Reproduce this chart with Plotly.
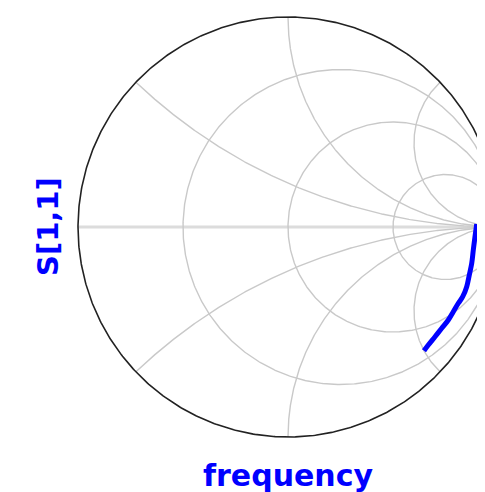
import numpy as np
import plotly.graph_objects as go

# Axis titles
x_title = "frequency"
y_title = "S[1,1]"

s11_re = [0.8986, 0.8905, 0.8824, 0.8748, 0.8633, 0.8510, 0.8319, 0.8110,
          0.7871, 0.7633, 0.7319, 0.7000, 0.6681, 0.6476]
s11_im = [0.0140, -0.0462, -0.1095, -0.1729, -0.2286, -0.2843, -0.3319, -0.3633,
          -0.4033, -0.4429, -0.4824, -0.5224, -0.5619, -0.5890]

# Smith chart grid values (normalised resistance / reactance)
r_grid = [1/3, 1, 3]
x_grid = [0.4, 1, 2.5, -0.4, -1, -2.5]

GRID = "#c9c9c9"
fig = go.Figure()

# real axis
fig.add_trace(go.Scatter(x=[-1, 1], y=[0, 0], mode="lines",
                         line=dict(color="#dcdcdc", width=3), hoverinfo="skip"))

# constant resistance circles
t = np.linspace(0, 2 * np.pi, 721)
for r in r_grid:
    c, rad = r / (1 + r), 1 / (1 + r)
    fig.add_trace(go.Scatter(x=c + rad * np.cos(t), y=rad * np.sin(t), mode="lines",
                             line=dict(color=GRID, width=1.4), hoverinfo="skip"))

# constant reactance arcs
rr = np.concatenate([[0.0], np.logspace(-3, 4, 900)])
for xv in x_grid:
    z = rr + 1j * xv
    g = (z - 1) / (z + 1)
    fig.add_trace(go.Scatter(x=g.real, y=g.imag, mode="lines",
                             line=dict(color=GRID, width=1.4), hoverinfo="skip"))

# outer |S| = 1 circle
fig.add_trace(go.Scatter(x=np.cos(t), y=np.sin(t), mode="lines",
                         line=dict(color="#222222", width=1.6), hoverinfo="skip"))

# data
fig.add_trace(go.Scatter(x=s11_re, y=s11_im, mode="lines",
                         line=dict(color="#0000ff", width=5, shape="spline"),
                         name=y_title))

R = 210.0
OFF = 8  # page offset of the figure inside the window
fig.update_layout(
    width=485 - OFF, height=492 - OFF,
    margin=dict(l=0, r=0, t=0, b=0),
    paper_bgcolor="white", plot_bgcolor="white",
    showlegend=False,
    xaxis=dict(range=[(OFF - 288) / R, (485 - 288) / R], visible=False, fixedrange=True),
    yaxis=dict(range=[(227 - 492) / R, (227 - OFF) / R], visible=False, fixedrange=True),
    annotations=[
        dict(text="<b>" + x_title + "</b>", x=0.0, y=(227 - 475) / R, xref="x", yref="y",
             showarrow=False, xanchor="center", yanchor="middle",
             font=dict(family="DejaVu Sans", size=30, color="#0000ff")),
        dict(text="<b>" + y_title + "</b>", x=(48 - 288) / R, y=0.0, xref="x", yref="y",
             showarrow=False, textangle=-90, xanchor="center", yanchor="middle",
             font=dict(family="DejaVu Sans", size=29, color="#0000ff")),
    ],
)

fig.write_html("out.html")
